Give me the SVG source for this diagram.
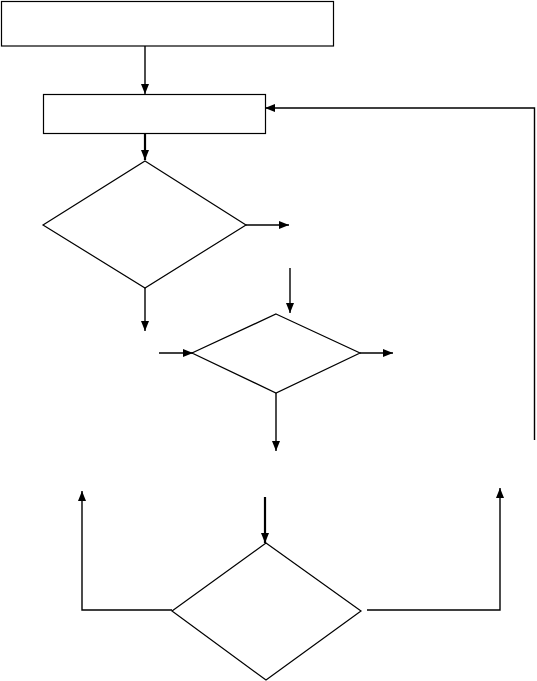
<svg xmlns="http://www.w3.org/2000/svg" width="537" height="681" viewBox="0 0 537 681">
<style>
.n{fill:#fff;stroke:#000;stroke-width:1.2}
.c{fill:none;stroke:#000;stroke-width:1.4}
.t{stroke-width:2.2}
</style>
<defs>
<marker id="a" viewBox="0 0 10 10" refX="10" refY="5" markerWidth="10" markerHeight="10" markerUnits="userSpaceOnUse" orient="auto">
<path d="M0,1 L10,5 L0,9 Z" fill="#000"/>
</marker>
</defs>
<rect width="537" height="681" fill="#fff"/>
<g id="box1"><rect class="n" x="1.5" y="1.5" width="332" height="44.5"/></g>
<g id="box2"><rect class="n" x="43.5" y="94.5" width="222" height="39"/></g>
<g id="dec1"><polygon class="n" points="145,161 246,225 145,288 43,225"/></g>
<g id="dec2"><polygon class="n" points="276,314 360,353 276,393 192,353"/></g>
<g id="dec3"><polygon class="n" points="266,543 361,611 266,680 172,611"/></g>
<g id="connectors">
<line class="c" x1="145" y1="46" x2="145" y2="94" marker-end="url(#a)"/>
<line class="c t" x1="145" y1="134" x2="145" y2="160" marker-end="url(#a)"/>
<line class="c" x1="246" y1="225" x2="289" y2="225" marker-end="url(#a)"/>
<line class="c" x1="145" y1="288" x2="145" y2="331" marker-end="url(#a)"/>
<line class="c" x1="290" y1="268" x2="290" y2="313" marker-end="url(#a)"/>
<line class="c" x1="159" y1="353" x2="193" y2="353" marker-end="url(#a)"/>
<line class="c" x1="360" y1="353" x2="393" y2="353" marker-end="url(#a)"/>
<line class="c" x1="276" y1="393" x2="276" y2="451" marker-end="url(#a)"/>
<polyline class="c" points="534.5,440 534.5,108 265,108" marker-end="url(#a)"/>
<line class="c t" x1="265" y1="497" x2="265" y2="543" marker-end="url(#a)"/>
<polyline class="c" points="172,610 82,610 82,491" marker-end="url(#a)"/>
<polyline class="c" points="367,610 500,610 500,488" marker-end="url(#a)"/>
</g>
</svg>
